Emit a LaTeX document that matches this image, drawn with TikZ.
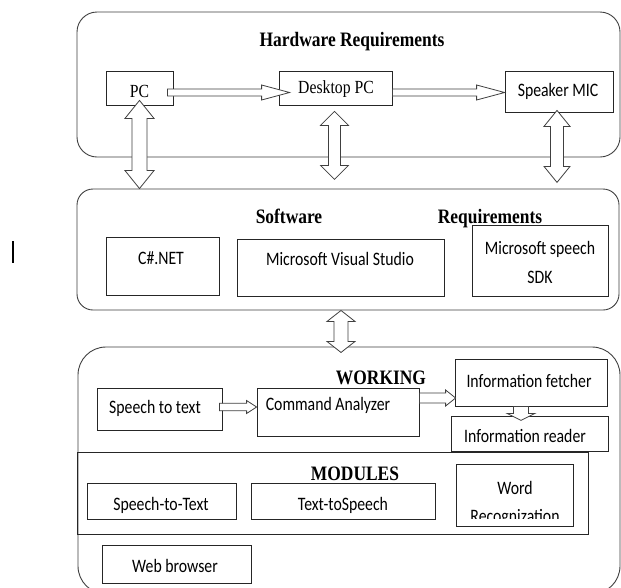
\documentclass[tikz,border=0pt]{standalone}
\usepackage{fontspec}
\setmainfont{Liberation Serif}[FakeStretch=0.85]
\newfontfamily\bodyfont{Carlito}[FakeStretch=0.83]
\usetikzlibrary{calc,fit}

\tikzset{
  panel/.style={draw=black!75, line width=0.9pt, inner sep=0pt, rounded corners=#1},
  panel/.default=18pt,
  item/.style={draw=black!85, line width=0.8pt, inner sep=0pt},
  hollow/.style={draw=black!75, line width=0.8pt, fill=white, line join=miter},
  title/.style={font=\fontsize{20.5}{24}\selectfont\bfseries, inner sep=0pt, anchor=base},
  txt/.style={font=\bodyfont\fontsize{19}{29}\selectfont, inner sep=0pt, align=center},
  serif/.style={font=\fontsize{18.5}{22}\selectfont, inner sep=0pt},
}

% hollow arrow pointing right: start, tip, shaft half width, head half width, head length
\newcommand\hollowright[5]{%
  \draw[hollow] let \p1=(#1), \p2=(#2) in
    (\x1,\y1+#3) -- (\x2-#5,\y1+#3) -- (\x2-#5,\y1+#4) -- (\x2,\y1)
    -- (\x2-#5,\y1-#4) -- (\x2-#5,\y1-#3) -- (\x1,\y1-#3) -- cycle;}
% hollow arrow pointing down: start, tip, shaft half width, head half width, head length
\newcommand\hollowdown[5]{%
  \draw[hollow] let \p1=(#1), \p2=(#2) in
    (\x1-#3,\y1) -- (\x1-#3,\y2+#5) -- (\x1-#4,\y2+#5) -- (\x1,\y2)
    -- (\x1+#4,\y2+#5) -- (\x1+#3,\y2+#5) -- (\x1+#3,\y1) -- cycle;}
% hollow two-headed vertical arrow: top tip, bottom tip, shaft half, head half, head length
\newcommand\hollowupdown[5]{%
  \draw[hollow] let \p1=(#1), \p2=(#2) in
    (\x1,\y1) -- (\x1+#4,\y1-#5) -- (\x1+#3,\y1-#5) -- (\x1+#3,\y2+#5)
    -- (\x1+#4,\y2+#5) -- (\x1,\y2) -- (\x1-#4,\y2+#5) -- (\x1-#3,\y2+#5)
    -- (\x1-#3,\y1-#5) -- (\x1-#4,\y1-#5) -- cycle;}

\begin{document}
\begin{tikzpicture}[x=1pt,y=-1pt]
\useasboundingbox[fill=white] (0,0) rectangle (621,587);

% stray text cursor mark on the left
\draw[line width=2pt] (13,241) -- (13,263);

% ---- panels ----
\node[panel=20pt, fit={(77,12) (620,157)}] (hw) {};
\node[panel=16pt, fit={(77,189) (619,310)}] (sw) {};
\node[panel=28pt, fit={(78,347) (620,594)}] (wk) {};
\node[item, fit={(77,452) (588,534)}] (mod) {};

% ---- hardware ----
\node[item, fit={(106,71) (173,105)}] (pc) {};
\node[item, fit={(279,71) (392,105)}] (dpc) {};
\node[item, fit={(505,71) (613,112)}] (spk) {};
\node[title] (hwt) at (352,46) {Hardware Requirements};
\node[serif] (pct) at (139.5,91) {PC};
\node[serif] (dpct) at (336,89) {Desktop PC};
\node[txt] (spkt) at (558,91) {Speaker MIC};

% ---- software ----
\node[item, fit={(106,237) (219,295)}] (cs) {};
\node[item, fit={(237,239) (444,296)}] (mvs) {};
\node[item, fit={(472,225) (608,296)}] (sdk) {};
\node[title] (swt1) at (289,223) {Software};
\node[title] (swt2) at (490,223) {Requirements};
\node[txt] (cst) at (161,258) {C\#.NET};
\node[txt] (mvst) at (340,259) {Microsoft Visual Studio};
\node[txt] (sdkt) at (540,262) {Microsoft speech\\SDK};

% ---- working ----
\node[item, fit={(97,388) (222,430)}] (stt) {};
\node[item, fit={(257,388) (419,436)}] (cmd) {};
\node[item, fit={(455,359) (607,406)}] (fet) {};
\node[item, fit={(451,416) (608,451)}] (rdr) {};
\node[title] (wkt) at (381,384) {WORKING};
\node[txt] (sttt) at (155,408.5) {Speech to text};
\node[txt] (cmdt) at (328,405.5) {Command Analyzer};
\node[txt] (fett) at (529,381) {Information fetcher};
\node[txt] (rdrt) at (525,436) {Information reader};

% ---- modules ----
\node[item, fit={(87,483) (236,519)}] (m1) {};
\node[item, fit={(251,483) (435,519)}] (m2) {};
\node[item, fit={(456,464) (573,526)}] (m3) {};
\node[item, fit={(102,545) (251,583)}] (web) {};
\node[title] (modt) at (355,480) {MODULES};
\node[txt] (m1t) at (161,505) {Speech-to-Text};
\node[txt] (m2t) at (343,505) {Text-toSpeech};
\node[txt] (m3t) at (515,488) {Word};
\begin{scope}
  \clip (456,464) rectangle (573,518.5);
  \node[txt, anchor=base] (m3u) at (515,522) {Recognization};
\end{scope}
\node[txt] (webt) at (175,566) {Web browser};

% ---- hollow arrows ----
\hollowright{$(pc.east)+(-6,4.5)$}{$(dpc.west)+(11,4.5)$}{3.5pt}{7.5pt}{28pt}
\hollowright{$(dpc.east)+(0,4.5)$}{spk.west}{3.5pt}{7.5pt}{28pt}
\hollowupdown{$(pc.south)+(0,-5)$}{pc.south |- sw.north}{7.5pt}{14.5pt}{18pt}
\hollowupdown{$(dpc.south)+(-1,6)$}{$(dpc.south)+(-1,74)$}{6pt}{14pt}{14pt}
\hollowupdown{$(spk.south)+(-2,-2)$}{$(spk.south)+(-2,70)$}{6.5pt}{13pt}{16pt}
\hollowupdown{$(sw.south)+(-7,0)$}{$(sw.south)+(-7,42)$}{7pt}{14pt}{11pt}
\hollowright{$(stt.east)+(-3,-2)$}{cmd.west}{3.7pt}{6.5pt}{10pt}
\hollowright{$(cmd.east)+(0,-14)$}{$(fet.west)+(1,0)$}{5pt}{8pt}{10pt}
\hollowdown{$(fet.south)+(-10,0)$}{$(fet.south)+(-10,14)$}{7.5pt}{14pt}{7pt}
\end{tikzpicture}
\end{document}
